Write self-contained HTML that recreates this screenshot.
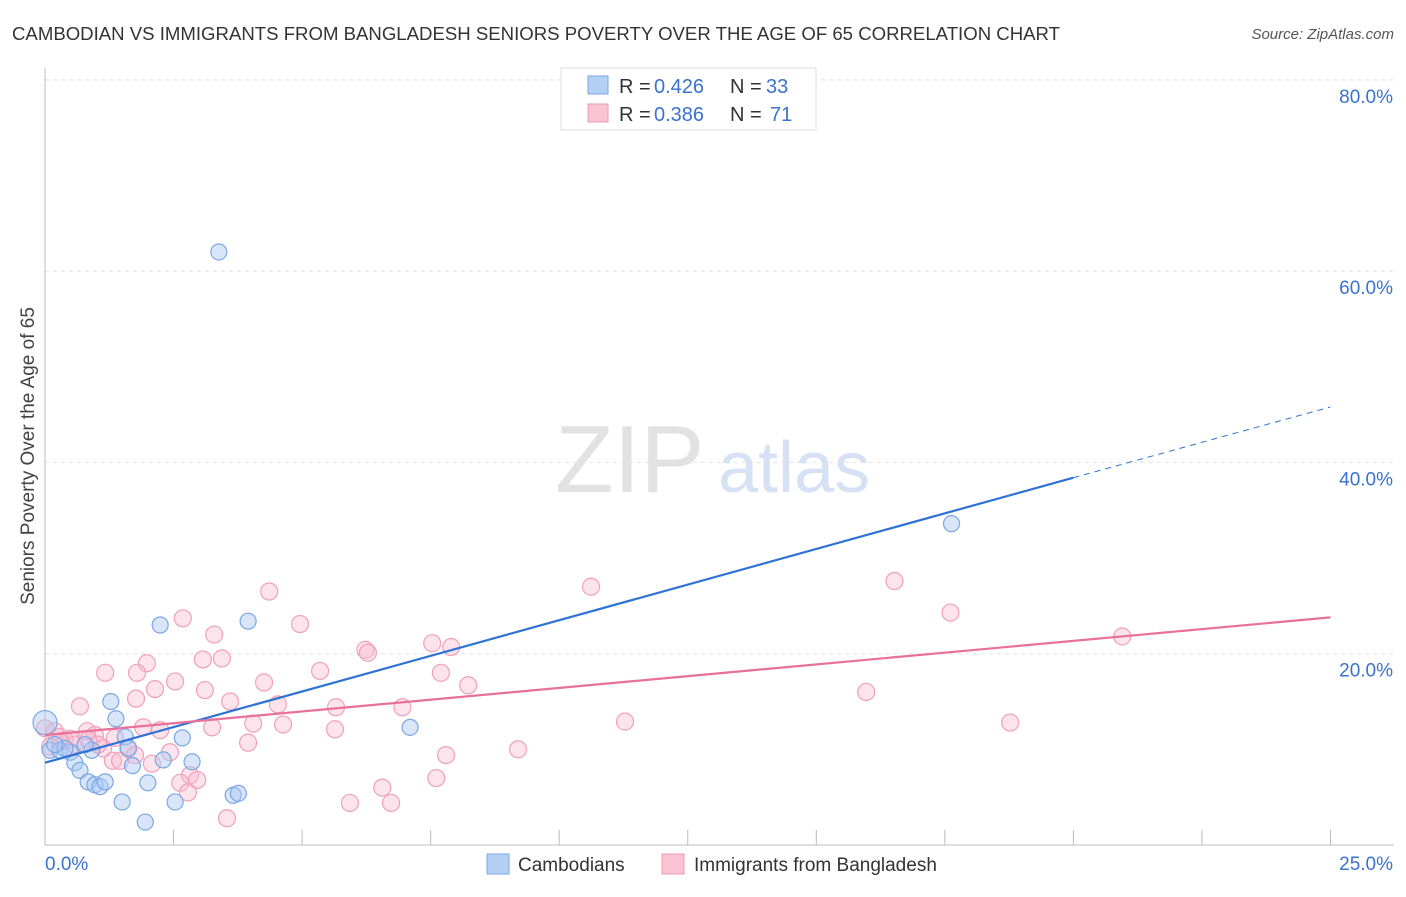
<!DOCTYPE html>
<html><head><meta charset="utf-8">
<style>
body{margin:0;background:#fff;font-family:"Liberation Sans",sans-serif;}
svg text{font-family:"Liberation Sans",sans-serif;}
</style></head>
<body>
<svg width="1406" height="892">
<text x="12" y="40" font-size="18" fill="#333" textLength="1048" lengthAdjust="spacingAndGlyphs">CAMBODIAN VS IMMIGRANTS FROM BANGLADESH SENIORS POVERTY OVER THE AGE OF 65 CORRELATION CHART</text>
<text x="1394" y="39" font-size="15" fill="#555" font-style="italic" text-anchor="end">Source: ZipAtlas.com</text>
<g id="grid"></g>
<text x="555" y="492" font-size="96" fill="#e2e2e2" font-family="Liberation Serif">ZIP</text>
<text x="718" y="492" font-size="72" fill="#d6e2f3">atlas</text>
<text x="34" y="456" font-size="19" fill="#444" text-anchor="middle" transform="rotate(-90 34 456)">Seniors Poverty Over the Age of 65</text>
<g id="pts"></g>
<g id="lines"></g>
<g>
<rect x="561" y="68" width="255" height="62" fill="#fff" stroke="#ddd"/>
<rect x="588" y="76" width="20" height="18" fill="#b5d0f5" stroke="#7aa6e6"/>
<rect x="588" y="104" width="20" height="18" fill="#f9c3d3" stroke="#ee9ab4"/>
<text x="619" y="93" font-size="20" fill="#333">R =</text>
<text x="654" y="93" font-size="20" fill="#3a72d0">0.426</text>
<text x="730" y="93" font-size="20" fill="#333">N =</text>
<text x="766" y="93" font-size="20" fill="#3a72d0">33</text>
<text x="619" y="121" font-size="20" fill="#333">R =</text>
<text x="654" y="121" font-size="20" fill="#3a72d0">0.386</text>
<text x="730" y="121" font-size="20" fill="#333">N =</text>
<text x="770" y="121" font-size="20" fill="#3a72d0">71</text>
</g>
<g>
<rect x="487" y="854" width="22" height="20" fill="#b5d0f5" stroke="#7aa6e6"/>
<text x="518" y="871" font-size="19" fill="#333">Cambodians</text>
<rect x="662" y="854" width="22" height="20" fill="#f9c3d3" stroke="#ee9ab4"/>
<text x="694" y="871" font-size="19" fill="#333">Immigrants from Bangladesh</text>
</g>
</svg>
<script>
const yTicks=[20,40,60,80];
const yTickLabels=["20.0%","40.0%","60.0%","80.0%"];
const xTicks=[0,2.5,5,7.5,10,12.5,15,17.5,20,22.5,25];
const blueX=[3.38,17.63,2.24,3.95,1.28,1.38,1.56,2.67,1.62,7.10,0,0.10,0.29,0.49,0.39,0.58,0.68,1.70,2.30,2.86,0.84,0.97,1.07,1.17,2.00,1.50,2.53,3.66,3.76,1.95,0.19,0.91,0.78];
const blueY=[62.0,33.6,23.0,23.4,15.0,13.2,11.3,11.2,10.1,12.3,12.8,9.9,9.9,9.7,10.1,8.6,7.8,8.3,8.9,8.7,6.6,6.3,6.1,6.6,6.5,4.5,4.5,5.2,5.4,2.4,10.5,9.9,10.5];
const pinkX=[2.68,4.36,10.62,16.52,17.61,20.95,3.29,4.96,1.98,1.17,1.79,3.07,3.44,2.53,5.35,6.23,6.28,7.53,7.90,7.70,8.23,2.14,3.11,1.77,3.60,4.26,4.53,5.66,6.95,0.68,15.97,18.77,11.28,4.05,4.63,3.25,1.91,2.24,0.82,0.97,1.36,5.64,3.95,1.62,1.13,0.19,0.29,0.39,0.49,0.10,9.20,7.80,2.43,1.32,1.46,2.08,2.82,2.96,2.63,2.78,7.61,6.56,5.93,6.73,3.54,0,0.58,1.75,0.84,1.03,0.29];
const pinkY=[23.7,26.5,27.0,27.6,24.3,21.8,22.0,23.1,19.0,18.0,18.0,19.4,19.5,17.1,18.2,20.4,20.1,21.1,20.7,18.0,16.7,16.3,16.2,15.3,15.0,17.0,14.7,14.4,14.4,14.5,16.0,12.8,12.9,12.7,12.6,12.3,12.3,12.0,11.9,11.5,11.2,12.1,10.7,10.1,10.1,11.9,11.3,10.9,11.1,10.3,10.0,9.4,9.7,8.8,8.8,8.5,7.3,6.8,6.5,5.5,7.0,6.0,4.4,4.4,2.8,12.2,10.5,9.4,11.0,10.5,10.8];
const blueFit=[[0,8.6],[20,38.4],[25,45.8]];
const pinkFit=[[0,11.5],[25,23.8]];
const NS="http://www.w3.org/2000/svg";
const X=v=>45+v*51.42, Y=v=>845-v*9.565;
function mk(t,a,p){const e=document.createElementNS(NS,t);for(const k in a)e.setAttribute(k,a[k]);p.appendChild(e);return e;}
const g=document.getElementById('grid');
yTicks.forEach((t,i)=>{
 const l=mk('line',{x1:45,x2:1394,y1:Y(t),y2:Y(t),stroke:'#e2e2e2','stroke-dasharray':'4,4'},g);
 
 
 const tx=mk('text',{x:1393,y:Y(t)+23,'font-size':19,fill:'#3a72d0','text-anchor':'end'},g);tx.textContent=yTickLabels[i];
 
 
});
mk('line',{x1:45,x2:1394,y1:80,y2:80,stroke:'#e2e2e2','stroke-dasharray':'4,4'},g);
mk('line',{x1:45,x2:45,y1:68,y2:845,stroke:'#bbb'},g);
mk('line',{x1:45,x2:1394,y1:845,y2:845,stroke:'#bbb'},g);
xTicks.forEach(t=>{const l=mk('line',{x1:X(t),x2:X(t),y1:830,y2:845,stroke:'#bbb'},g);
 
 });
let a=mk('text',{x:45,y:870,'font-size':19,fill:'#3a72d0'},g);a.textContent='0.0%';

a=mk('text',{x:1393,y:870,'font-size':19,fill:'#3a72d0','text-anchor':'end'},g);a.textContent='25.0%';

const p=document.getElementById('pts');
pinkX.forEach((x,i)=>{const c=mk('circle',{cx:X(x),cy:Y(pinkY[i]),r:8.5,fill:'rgba(249,185,205,0.4)',stroke:'#f0a0ba','stroke-width':1.2},p);
 
 });
blueX.forEach((x,i)=>{const c=mk('circle',{cx:X(x),cy:Y(blueY[i]),r:i==10?12:8,fill:'rgba(170,200,245,0.45)',stroke:'#7aa6e6','stroke-width':1.2},p);
 
 });
const L=document.getElementById('lines');
let l=mk('line',{x1:X(blueFit[0][0]),y1:Y(blueFit[0][1]),x2:X(blueFit[1][0]),y2:Y(blueFit[1][1]),stroke:'#2f72d6','stroke-width':2.2},L);

l=mk('line',{x1:X(blueFit[1][0]),y1:Y(blueFit[1][1]),x2:X(blueFit[2][0]),y2:Y(blueFit[2][1]),stroke:'#2f72d6','stroke-width':1,'stroke-dasharray':'6,5'},L);

l=mk('line',{x1:X(pinkFit[0][0]),y1:Y(pinkFit[0][1]),x2:X(pinkFit[1][0]),y2:Y(pinkFit[1][1]),stroke:'#e8709a','stroke-width':2.2},L);

</script>
</body></html>
